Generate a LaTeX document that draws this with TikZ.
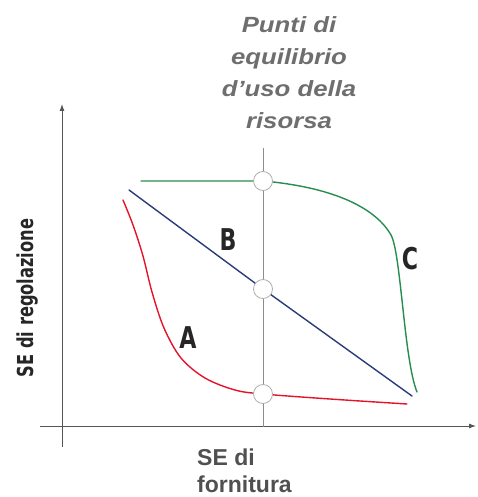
\documentclass[tikz,border=0pt]{standalone}
\usepackage{fontspec}
\setmainfont{Liberation Sans}
\newfontfamily\condfont{DejaVu Sans Condensed}
\usepackage{tikz}
\usetikzlibrary{arrows.meta, positioning, calc}

\definecolor{asse}{RGB}{85,85,85}
\definecolor{guida}{RGB}{140,140,140}
\definecolor{curvaA}{RGB}{228,20,40}
\definecolor{curvaB}{RGB}{40,60,120}
\definecolor{curvaC}{RGB}{40,140,80}
\definecolor{testo}{RGB}{110,110,110}
\definecolor{testoasse}{RGB}{80,80,80}

\newcommand{\stretta}[1]{\scalebox{0.82}[1]{#1}}
\newcommand{\larga}[1]{\scalebox{1.17}[1]{#1}}

\begin{document}
\begin{tikzpicture}[
    x=1pt, y=-1pt,
    axis/.style={draw=asse, line width=0.9pt, -{Latex[length=7pt,width=5pt]}},
    curve/.style={line width=1.4pt, line cap=round},
    punto/.style={circle, draw=guida!70, fill=white, line width=0.8pt, minimum size=19pt, inner sep=0pt},
    letter/.style={font=\condfont\bfseries\fontsize{30}{30}\selectfont, text=black!85}
]
    \useasboundingbox (0,0) rectangle (477,497);

    % Axes
    \coordinate (orig) at (62,426);
    \coordinate (ytop) at (62,104);
    \coordinate (ybot) at (62,447);
    \coordinate (xleft) at (40,426);
    \coordinate (xright) at (476,426);
    \draw[axis] (ybot) -- (ytop);
    \draw[axis] (xleft) -- (xright);

    % Guide line
    \coordinate (gtop) at (263,148);
    \coordinate (gbot) at (263,427);
    \draw[guida, line width=0.9pt] (gtop) -- (gbot);

    % Equilibrium points
    \coordinate (pC) at (263,181);
    \coordinate (pB) at (263,289);
    \coordinate (pA) at (263,394);

    % Curves
    \draw[curve, curvaA] plot[smooth, tension=0.55] coordinates {
        (123,200) (133,225) (143,256) (152,292) (164,328) (181,358)
        (205,378) (235,390) (pA) (330,399) (407,404)};
    \draw[curve, curvaB] (129,190) -- (pB) -- (412,396);
    \draw[curve, curvaC] (141,181) -- (pC)
        .. controls (320,186) and (372,202) .. (391,235)
        .. controls (401,253) and (404,360) .. (417,392);

    \node[punto] (eqC) at (pC) {};
    \node[punto] (eqB) at (pB) {};
    \node[punto] (eqA) at (pA) {};

    % Labels
    \node[letter] (labA) at (188,338) {\stretta{A}};
    \node[letter] (labB) at (228,240) {\stretta{B}};
    \node[letter] (labC) at (410,259) {\stretta{C}};

    \node[rotate=90, font=\condfont\bfseries\fontsize{22}{22}\selectfont, text=black!85] (ylab) at (28,298) {\stretta{SE di regolazione}};
    \node[anchor=north west, align=left, inner sep=0pt, font=\bfseries\fontsize{23}{27}\selectfont, text=testoasse] (xlab) at (197,449) {SE di\\fornitura};
    \node[anchor=north, align=center, inner sep=0pt, text=testo,
          font=\bfseries\itshape\fontsize{22}{32}\selectfont] (titolo) at (289,16)
          {\larga{Punti di}\\\larga{equilibrio}\\\larga{d’uso della}\\\larga{risorsa}};
\end{tikzpicture}
\end{document}
